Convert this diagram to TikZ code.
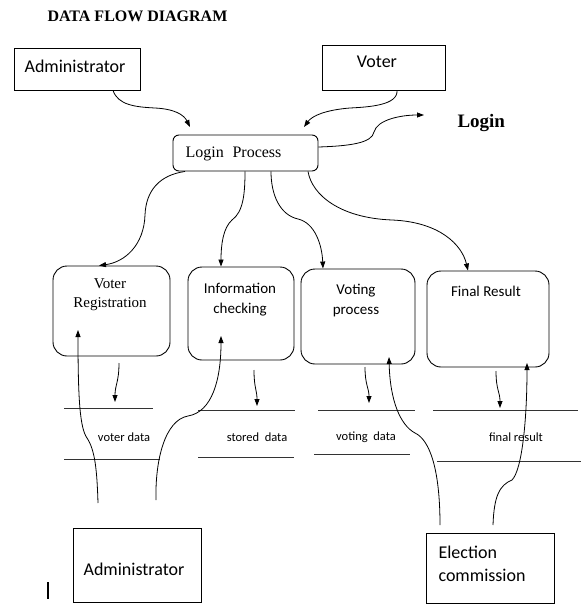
\documentclass[tikz,border=0pt]{standalone}
\usepackage{fontspec}
\setmainfont{Liberation Serif}
\newfontfamily\carl{Carlito}
\usetikzlibrary{arrows.meta}
\begin{document}
\begin{tikzpicture}[x=1pt,y=-1pt,
  box/.style={draw, line width=0.9pt, inner sep=0pt},
  proc/.style={box, rounded corners=14pt},
  flow/.style={line width=0.8pt, -{Triangle[length=7pt,width=5pt]}},
  store/.style={line width=0.8pt, black!80},
  big/.style={font=\carl\fontsize{18}{23}\selectfont},
  mid/.style={font=\carl\fontsize{15}{20}\selectfont},
  midserif/.style={font=\fontsize{15}{19}\selectfont},
  small/.style={font=\carl\fontsize{12.5}{14}\selectfont}]
\useasboundingbox (0,0) rectangle (586,604);

% title
\node[anchor=west, font=\bfseries\fontsize{16}{18}\selectfont] (title) at (44,16) {DATA FLOW DIAGRAM};

% entities
\node[box, minimum width=126pt, minimum height=42pt] (adm1) at (77,69) {};
\node[big] (adm1t) at (75,66) {Administrator};
\node[box, minimum width=123pt, minimum height=45pt] (voter) at (383.5,67.5) {};
\node[big] (votert) at (377,62) {Voter};

% login process
\node[box, rounded corners=6pt, minimum width=145pt, minimum height=36pt] (login) at (245.5,153) {};
\node[anchor=west, font=\fontsize{16}{18}\selectfont] (logint) at (182,154) {Login\hspace{0.55em}Process};
\node[anchor=west, font=\bfseries\fontsize{19}{21}\selectfont] (loginlab) at (454,123) {Login};

% processes
\node[proc, minimum width=117pt, minimum height=90pt] (vr) at (111.5,311) {};
\node[midserif, align=center] (vrt) at (110,295) {Voter\\Registration};
\node[proc, minimum width=106pt, minimum height=93pt] (ic) at (241,313.5) {};
\node[mid, align=center] (ict) at (240,299.5) {Information\\checking};
\node[proc, minimum width=114pt, minimum height=95pt] (vp) at (358,316.5) {};
\node[mid, align=center] (vpt) at (356,300.5) {Voting\\process};
\node[proc, minimum width=122pt, minimum height=96pt] (fr) at (488,319) {};
\node[mid] (frt) at (486,291) {Final Result};

% data stores
\draw[store] (64,408) -- (153,408);
\draw[store] (64,459) -- (160,459);
\node[small] (vd) at (124,437) {voter data};
\draw[store] (198,410) -- (295,410);
\draw[store] (198,457) -- (294,457);
\node[small] (sd) at (257,437) {stored\ \ data};
\draw[store] (318,410) -- (415,410);
\draw[store] (314,454) -- (410,454);
\node[small] (vdd) at (366,437) {voting\ \ data};
\draw[store] (433,410) -- (578,410);
\draw[store] (437,461) -- (581,461);
\node[small] (frd) at (516,437) {final result};

% bottom entities
\node[box, minimum width=128pt, minimum height=74pt] (adm2) at (137,565) {};
\node[big] (adm2t) at (134,569) {Administrator};
\node[box, minimum width=128pt, minimum height=70pt] (ec) at (490,568.5) {};
\node[big, anchor=west, align=left] (ect) at (435,563.5) {Election\\commission};

% cursor mark
\draw[line width=1.4pt] (48,582) -- (48,599);

% coordinates inside boxes / near stores
\coordinate (vrin) at (78,330);
\coordinate (icin) at (221,336);
\coordinate (vpin) at (389,357);
\coordinate (frin) at (527,363);
\coordinate (vdtop) at (115,402);
\coordinate (sdtop) at (257,406);
\coordinate (vddtop) at (369,403);
\coordinate (frdtop) at (500,408);
\coordinate (logintip) at (190,127);
\coordinate (logintip2) at (304,127);
\coordinate (lablink) at (424,115);

% connectors
\draw[flow] (adm1.south -| 113,0) .. controls (118,105) and (135,107) .. (155,108)
  .. controls (175,109) and (184,115) .. (logintip);
\draw[flow] (voter.south -| 397,0) .. controls (398,105) and (370,107) .. (350,108)
  .. controls (325,110) and (312,116) .. (logintip2);
\draw[flow] (login.east |- 0,147) .. controls (350,146) and (372,143) .. (374,132)
  .. controls (377,120) and (400,115) .. (lablink);

\draw[flow] (login.south -| 185,0) .. controls (160,175) and (146,190) .. (145,215)
  .. controls (144,245) and (125,262) .. (vr.north -| 99,0);
\draw[flow] (login.south -| 245,0) .. controls (245,195) and (243,212) .. (232,220)
  .. controls (223,228) and (221,245) .. (ic.north -| 221,0);
\draw[flow] (login.south -| 271,0) .. controls (271,195) and (280,215) .. (298,219)
  .. controls (315,223) and (322,245) .. (vp.north -| 323,0);
\draw[flow] (login.south -| 308,0) .. controls (312,195) and (340,218) .. (392,220)
  .. controls (440,222) and (462,245) .. (fr.north -| 468,0);

\draw[flow] (119,363) .. controls (119,382) and (115,385) .. (vdtop);
\draw[flow] (254,370) .. controls (254,388) and (257,390) .. (sdtop);
\draw[flow] (365,367) .. controls (365,385) and (369,388) .. (vddtop);
\draw[flow] (496,371) .. controls (496,390) and (500,392) .. (frdtop);

\draw[flow] (98,503) .. controls (97,470) and (95,450) .. (87,438)
  .. controls (80,428) and (78,400) .. (vrin);
\draw[flow] (156,500) .. controls (155,460) and (165,420) .. (188,416)
  .. controls (212,412) and (221,380) .. (icin);
\draw[flow] (440,525) .. controls (440,470) and (430,440) .. (415,433)
  .. controls (400,425) and (390,400) .. (vpin);
\draw[flow] (493,525) .. controls (494,495) and (500,485) .. (512,480)
  .. controls (522,470) and (527,420) .. (frin);
\end{tikzpicture}
\end{document}
